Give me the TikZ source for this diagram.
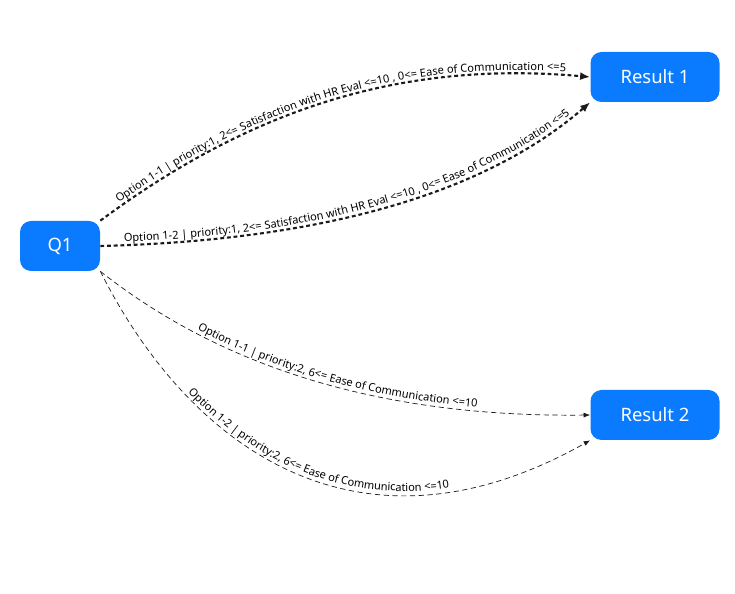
\documentclass[tikz,border=0pt]{standalone}
\usepackage{fontspec}
\setmainfont{Noto Sans}
\usepackage{xcolor}
\definecolor{qBlue}{HTML}{0A7BFF}
\definecolor{edgeDark}{HTML}{1A1A1A}
\usetikzlibrary{arrows.meta,decorations.text}
\tikzset{
    state/.style={
        fill=qBlue,
        draw=none,
        rounded corners=2.2mm,
        text=white,
        font=\fontsize{10.5pt}{12pt}\selectfont,
        minimum height=50*0.02cm
    },
    boldedge/.style={
        -{Latex[length=2mm,width=1.6mm]},
        line width=1.2pt,
        dash pattern=on 2.2pt off 1.6pt,
        color=edgeDark
    },
    thinedge/.style={
        -{Latex[length=1.3mm,width=1mm]},
        line width=0.4pt,
        dash pattern=on 3pt off 2pt,
        color=edgeDark
    },
    pathlabel/.style={
        postaction={decorate},
        decoration={text along path, text align=center, raise=2pt,
            text={|\fontsize{6.3pt}{7pt}\selectfont|#1}}
    }
}
\begin{document}
\begin{tikzpicture}[x=0.02cm,y=-0.02cm]
    \useasboundingbox (0,0) rectangle (735,594);
    % States
    \node[state, minimum width=80*0.02cm] (q1) at (60,246) {Q1};
    \node[state, minimum width=129*0.02cm] (res1) at (655,77) {Result 1};
    \node[state, minimum width=129*0.02cm] (res2) at (655,415) {Result 2};

    % Transitions to Result 1
    \draw[boldedge, pathlabel={Option 1-1 {\textbar} priority:1, 2<= Satisfaction with HR Eval <=10 , 0<= Ease of Communication <=5}]
        (q1.north east) .. controls (250,110) and (400,60) .. (res1.west);
    \draw[boldedge, pathlabel={Option 1-2 {\textbar} priority:1, 2<= Satisfaction with HR Eval <=10 , 0<= Ease of Communication <=5}]
        (q1.east) .. controls (260,242) and (460,215) .. (res1.south west);

    % Transitions to Result 2
    \draw[thinedge, pathlabel={Option 1-1 {\textbar} priority:2, 6<= Ease of Communication <=10}]
        (q1.south east) .. controls (200,350) and (350,418) .. (res2.west);
    \draw[thinedge, pathlabel={Option 1-2 {\textbar} priority:2, 6<= Ease of Communication <=10}]
        (q1.south east) .. controls (190,450) and (360,570) .. (res2.south west);
\end{tikzpicture}
\end{document}
